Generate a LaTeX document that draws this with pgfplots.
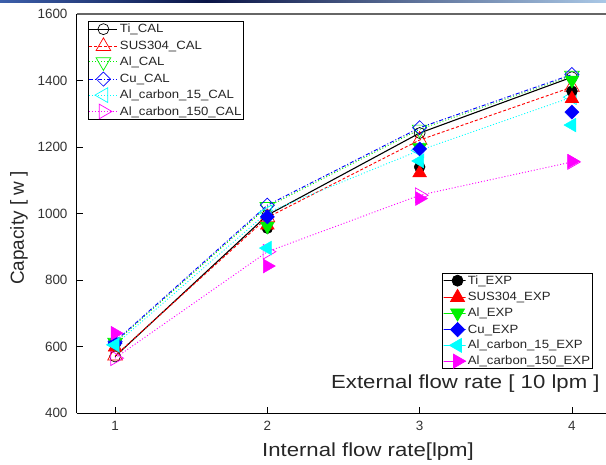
\documentclass[border=0pt]{standalone}
\usepackage{pgfplots}
\pgfplotsset{compat=1.18}
\usepackage{fontspec}
\setmainfont{Liberation Sans}
\definecolor{mgreen}{RGB}{0,240,0}
\definecolor{mcyan}{RGB}{0,255,255}
\definecolor{mmag}{RGB}{255,0,255}
\definecolor{mred}{RGB}{255,0,0}
\definecolor{mblue}{RGB}{0,0,255}
\newcommand\hs[1]{\scalebox{1.1}[1]{#1}}
\newcommand\hl[1]{\scalebox{1.17}[1]{#1}}
\pgfplotsset{
  common/.style={
    scale only axis, width=533bp, height=399bp,
    at={(0bp,0bp)}, anchor=south west,
    xmin=0.75, xmax=4.25, ymin=400, ymax=1600,
    clip=false,
  },
}
\begin{document}
\begin{tikzpicture}
\path[use as bounding box] (-77bp,-52bp) rectangle (529bp,413bp);
\clip (-77bp,-52bp) rectangle (529bp,413bp);
\shade[left color={rgb,255:red,60;green,95;blue,170}, right color={rgb,255:red,10;green,20;blue,70}] (-77bp,410bp) rectangle (130bp,413.5bp);
\shade[left color={rgb,255:red,10;green,20;blue,70}, right color={rgb,255:red,170;green,200;blue,230}] (129.5bp,410bp) rectangle (529bp,413.5bp);
\begin{axis}[common,
  axis x line*=bottom, axis y line*=left,
  axis line style={-, line width=1bp, black},
  tick align=inside, major tick length=6bp,
  tick style={black, line width=0.8bp},
  xtick={1,2,3,4}, ytick={400,600,800,1000,1200,1400,1600},
  /pgf/number format/assume math mode=true,
  /pgf/number format/1000 sep={},
  ticklabel style={font=\fontsize{13.5}{15}\selectfont, text=black!80},
  yticklabel style={xshift=-6bp},
  xticklabel style={yshift=-5bp},
  xlabel={\hl{Internal flow rate[lpm]}},
  ylabel={Capacity [ w ]},
  label style={font=\fontsize{19}{22}\selectfont, text=black!85},
  xlabel style={at={(axis description cs:0.546,-0.0977)}, anchor=center},
  ylabel style={at={(axis description cs:-0.1088,0.4637)}, anchor=center},
  legend cell align=left,
  legend image code/.code={\draw[mark repeat=2,mark phase=2,#1] plot coordinates {(0bp,0bp)(14bp,0bp)(28bp,0bp)};},
  legend style={at={(0.0206,0.982)}, anchor=north west, draw=black, line width=0.8bp, fill=white,
    inner sep=0.5bp, row sep=1.6bp,
    nodes={inner sep=2bp, text=black!85},
    font=\fontsize{12}{13}\selectfont},
]
\addplot[black, line width=1.1bp, mark=o, mark size=5.5bp, mark options={solid, line width=0.7bp}]
  coordinates {(1,570)(2,995)(3,1242)(4,1410)};
\addlegendentry{\hs{Ti\_CAL}}
\addplot[mred, line width=0.9bp, dash pattern=on 3bp off 2bp, mark=triangle, mark size=8.5bp, mark options={solid, line width=0.7bp}]
  coordinates {(1,572)(2,988)(3,1221)(4,1380)};
\addlegendentry{\hs{SUS304\_CAL}}
\addplot[mgreen, line width=0.9bp, dash pattern=on 1bp off 2bp, mark=triangle, mark size=8.5bp, mark options={solid, line width=0.7bp, rotate=180}]
  coordinates {(1,612)(2,1020)(3,1253)(4,1415)};
\addlegendentry{\hs{Al\_CAL}}
\addplot[mblue, line width=0.9bp, dash pattern=on 4bp off 2bp on 1bp off 2bp, mark=square, mark size=5bp, mark options={solid, line width=0.7bp, rotate=45}]
  coordinates {(1,615)(2,1025)(3,1258)(4,1418)};
\addlegendentry{\hs{Cu\_CAL}}
\addplot[mcyan, line width=0.9bp, dash pattern=on 1bp off 2bp, mark=triangle, mark size=8.5bp, mark options={solid, line width=0.7bp, rotate=90}]
  coordinates {(1,605)(2,1003)(3,1190)(4,1350)};
\addlegendentry{\hs{Al\_carbon\_15\_CAL}}
\addplot[mmag, line width=0.9bp, dash pattern=on 1bp off 2bp, mark=triangle, mark size=8.5bp, mark options={solid, line width=0.7bp, rotate=-90}]
  coordinates {(1,565)(2,885)(3,1055)(4,1155)};
\addlegendentry{\hs{Al\_carbon\_150\_CAL}}
\draw[black!60, line width=1.5bp] (rel axis cs:0,1) -- (rel axis cs:1,1);
\node[anchor=east, font=\fontsize{19}{22}\selectfont, text=black!85] at (axis description cs:0.987,0.0727) {\hl{External flow rate [ 10 lpm ]}};
\end{axis}
\begin{axis}[common, hide axis,
  legend cell align=left,
  legend image code/.code={\path (0bp,0bp) rectangle (22bp,0bp); \draw[#1] plot coordinates {(14bp,0bp)};},
  legend style={at={(0.968,0.110)}, anchor=south east, draw=black, line width=0.8bp, fill=white,
    inner sep=0.5bp, row sep=1.6bp,
    nodes={inner sep=2bp, text=black!85},
    font=\fontsize{12}{13}\selectfont},
]
\addplot[only marks, black, mark=*, mark size=5.5bp]
  coordinates {(1,605)(2,956)(3,1140)(4,1368)};
\addlegendentry{\hs{Ti\_EXP}}
\addplot[only marks, mred, mark=triangle*, mark size=8bp]
  coordinates {(1,598)(2,965)(3,1122)(4,1345)};
\addlegendentry{\hs{SUS304\_EXP}}
\addplot[only marks, mgreen, mark=triangle*, mark size=8bp, mark options={rotate=180}]
  coordinates {(1,612)(2,962)(3,1198)(4,1401)};
\addlegendentry{\hs{Al\_EXP}}
\addplot[only marks, mblue, mark=square*, mark size=5bp, mark options={rotate=45}]
  coordinates {(1,610)(2,990)(3,1194)(4,1305)};
\addlegendentry{\hs{Cu\_EXP}}
\addplot[only marks, mcyan, mark=triangle*, mark size=8bp, mark options={rotate=90}]
  coordinates {(1,605)(2,896)(3,1158)(4,1266)};
\addlegendentry{\hs{Al\_carbon\_15\_EXP}}
\addplot[only marks, mmag, mark=triangle*, mark size=8bp, mark options={rotate=-90}]
  coordinates {(1,640)(2,842)(3,1045)(4,1157)};
\addlegendentry{\hs{Al\_carbon\_150\_EXP}}
\end{axis}
\end{tikzpicture}
\end{document}
